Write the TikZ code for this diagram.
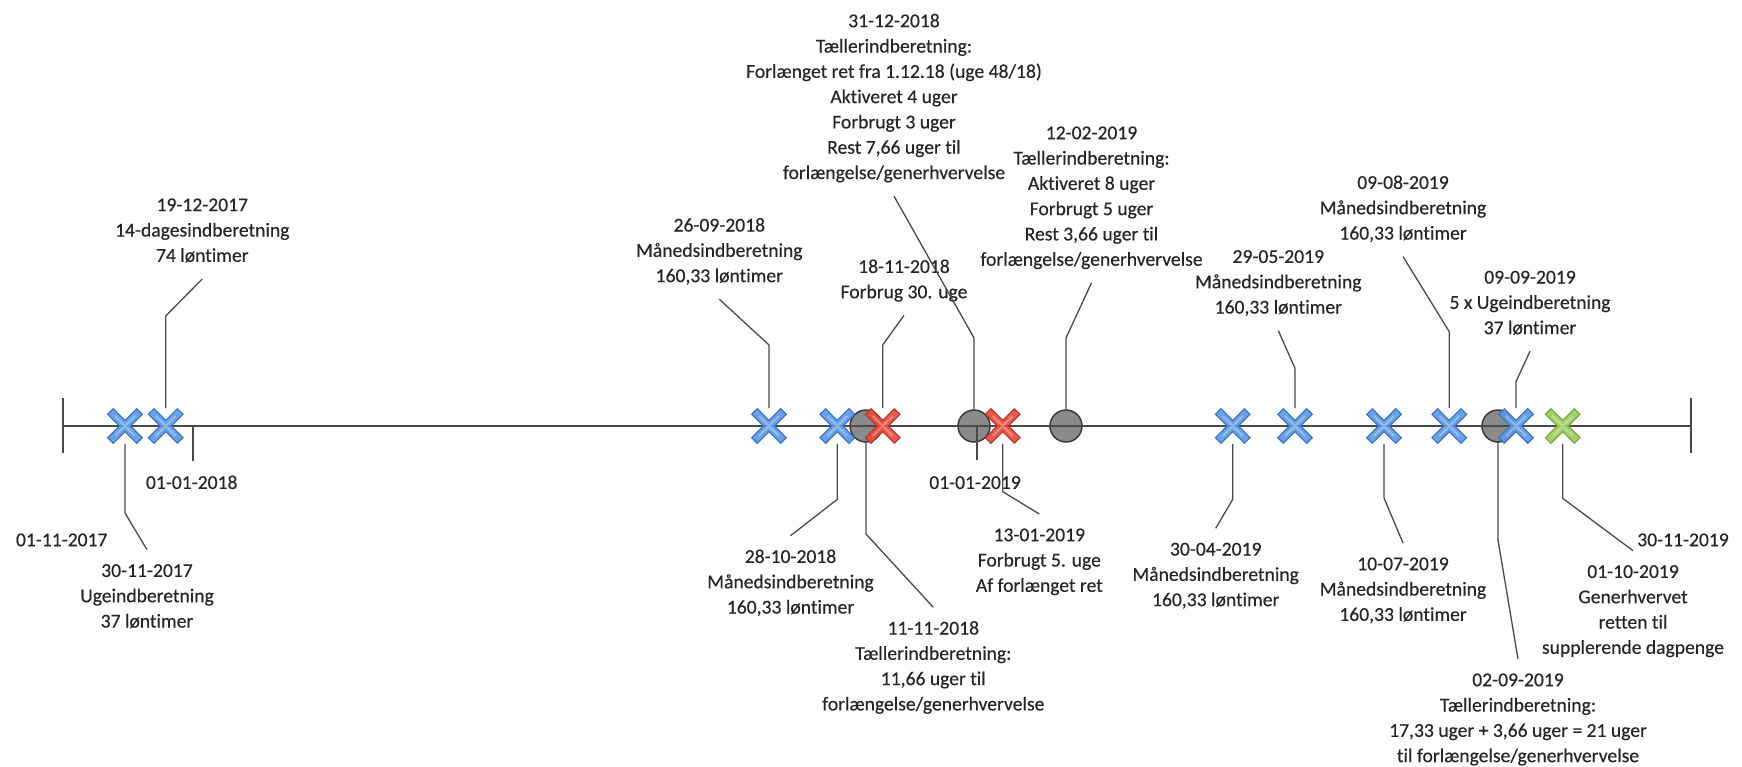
\documentclass[tikz,border=0pt]{standalone}
\usepackage{fontspec}
\setmainfont{Carlito}[Ligatures=NoCommon, FakeBold=0.35]
\definecolor{xbluef}{HTML}{5B9BE6}
\definecolor{xbluel}{HTML}{3A70C8}
\definecolor{xredf}{HTML}{E84A3C}
\definecolor{xredl}{HTML}{B8322A}
\definecolor{xgreenf}{HTML}{9DCC5C}
\definecolor{xgreenl}{HTML}{76A33E}
\definecolor{circf}{HTML}{8A8A8A}
\definecolor{circl}{HTML}{3C3C3C}
\definecolor{linec}{HTML}{4A4A4A}
\definecolor{txtc}{HTML}{262626}
\tikzset{
  lbl/.style={font=\fontsize{19.6}{25.3}\selectfont, align=center, text=txtc,
    inner xsep=0pt, inner ysep=9.5pt, outer sep=0pt, anchor=north},
  conn/.style={draw=linec, line width=1.3pt},
  axisline/.style={draw=linec, line width=1.4pt},
  mk/.style={shape=circle, minimum size=36pt, inner sep=0pt, outer sep=0pt},
  cmk/.style={shape=circle, minimum size=32pt, inner sep=0pt, outer sep=0pt,
    fill=circf, draw=circl, line width=1.5pt},
  pics/xmk/.style 2 args={code={
    \path[fill=#1, draw=#2, fill opacity=0.92, line width=1.1pt, rotate=45]
      (20.5,-4) -- (20.5,4) -- (4,4) -- (4,20.5) -- (-4,20.5) -- (-4,4)
      -- (-20.5,4) -- (-20.5,-4) -- (-4,-4) -- (-4,-20.5) -- (4,-20.5) -- (4,-4) -- cycle;
    \path[draw=white, draw opacity=0.3, line width=2pt, rotate=45]
      (-14,0) -- (14,0) (0,-14) -- (0,14);
  }}
}
\begin{document}
\begin{tikzpicture}[x=1pt,y=-1pt]
\useasboundingbox[fill=white] (0,0) rectangle (1742,766);

% marker nodes
\node[mk] (m1) at (125,426) {};
\node[mk] (m2) at (165.7,426) {};
\node[mk] (m3) at (769,426) {};
\node[mk] (m4) at (837.3,426) {};
\node[cmk] (m5) at (866,426) {};
\node[mk] (m6) at (882.7,426) {};
\node[cmk] (m7) at (974,426) {};
\node[mk] (m8) at (1002.7,426) {};
\node[cmk] (m9) at (1066,426) {};
\node[mk] (m10) at (1232.7,426) {};
\node[mk] (m11) at (1295,426) {};
\node[mk] (m12) at (1384,426) {};
\node[mk] (m13) at (1449.3,426) {};
\node[cmk] (m14) at (1498,426) {};
\node[mk] (m15) at (1516,426) {};
\node[mk] (m16) at (1562.7,426) {};

% axis and ticks
\coordinate (axL) at (63,426);
\coordinate (axR) at (1691,426);
\draw[axisline] (axL) -- (axR);
\coordinate (tLa) at (63,398); \coordinate (tLb) at (63,453);
\coordinate (tRa) at (1691,398); \coordinate (tRb) at (1691,453);
\coordinate (y18a) at (193,426); \coordinate (y18b) at (193,461);
\coordinate (y19a) at (977,426); \coordinate (y19b) at (977,460);
\draw[axisline] (tLa) -- (tLb);
\draw[axisline] (tRa) -- (tRb);
\draw[axisline] (y18a) -- (y18b);
\draw[axisline] (y19a) -- (y19b);

% X markers
\pic at (m1) {xmk={xbluef}{xbluel}};
\pic at (m2) {xmk={xbluef}{xbluel}};
\pic at (m3) {xmk={xbluef}{xbluel}};
\pic at (m4) {xmk={xbluef}{xbluel}};
\pic at (m6) {xmk={xredf}{xredl}};
\pic at (m8) {xmk={xredf}{xredl}};
\pic at (m10) {xmk={xbluef}{xbluel}};
\pic at (m11) {xmk={xbluef}{xbluel}};
\pic at (m12) {xmk={xbluef}{xbluel}};
\pic at (m13) {xmk={xbluef}{xbluel}};
\pic at (m15) {xmk={xbluef}{xbluel}};
\pic at (m16) {xmk={xgreenf}{xgreenl}};

% end and year labels
\node[lbl] (e1) at (61.7,519) {\strut 01-11-2017\strut};
\node[lbl] (e2) at (1683,519) {\strut 30-11-2019\strut};
\node[lbl] (y18) at (191.7,461.7) {\strut 01-01-2018\strut};
\node[lbl] (y19) at (975,461.7) {\strut 01-01-2019\strut};

% event labels
\node[lbl] (l1) at (147,549.7) {\strut 30-11-2017\\Ugeindberetning\\37 løntimer\strut};
\node[lbl] (l2) at (202.3,184) {\strut 19-12-2017\\14-dagesindberetning\\74 løntimer\strut};
\node[lbl] (l3) at (719.3,204.3) {\strut 26-09-2018\\Månedsindberetning\\160,33 løntimer\strut};
\node[lbl] (l4) at (790.5,535.7) {\strut 28-10-2018\\Månedsindberetning\\160,33 løntimer\strut};
\node[lbl] (l5) at (933.3,607.3) {\strut 11-11-2018\\Tællerindberetning:\\11,66 uger til\\forlængelse/generhvervelse\strut};
\node[lbl] (l6) at (904,245.7) {\strut 18-11-2018\\Forbrug 30. uge\strut};
\node[lbl] (l7) at (894,0) {\strut 31-12-2018\\Tællerindberetning:\\Forlænget ret fra 1.12.18 (uge 48/18)\\Aktiveret 4 uger\\Forbrugt 3 uger\\Rest 7,66 uger til\\forlængelse/generhvervelse\strut};
\node[lbl] (l8) at (1039.3,514) {\strut 13-01-2019\\Forbrugt 5. uge\\Af forlænget ret\strut};
\node[lbl] (l9) at (1091.5,112) {\strut 12-02-2019\\Tællerindberetning:\\Aktiveret 8 uger\\Forbrugt 5 uger\\Rest 3,66 uger til\\forlængelse/generhvervelse\strut};
\node[lbl] (l10) at (1215.7,528.3) {\strut 30-04-2019\\Månedsindberetning\\160,33 løntimer\strut};
\node[lbl] (l11) at (1278.3,235.7) {\strut 29-05-2019\\Månedsindberetning\\160,33 løntimer\strut};
\node[lbl] (l12) at (1403,543) {\strut 10-07-2019\\Månedsindberetning\\160,33 løntimer\strut};
\node[lbl] (l13) at (1403,161.7) {\strut 09-08-2019\\Månedsindberetning\\160,33 løntimer\strut};
\node[lbl] (l14) at (1518,659) {\strut 02-09-2019\\Tællerindberetning:\\17,33 uger + 3,66 uger = 21 uger\\til forlængelse/generhvervelse\strut};
\node[lbl] (l15) at (1530,256.3) {\strut 09-09-2019\\5 x Ugeindberetning\\37 løntimer\strut};
\node[lbl] (l16) at (1633,550.7) {\strut 01-10-2019\\Generhvervet\\retten til\\supplerende dagpenge\strut};

% bend points
\coordinate (b1) at (125,513);
\coordinate (b2) at (165.7,316);
\coordinate (b3) at (769,345);
\coordinate (b4) at (837.3,499.3);
\coordinate (b5) at (866,534);
\coordinate (b6) at (882.7,345);
\coordinate (b7) at (974,338);
\coordinate (b8) at (1002.7,491.7);
\coordinate (b9) at (1066,338);
\coordinate (b10) at (1232.7,499.3);
\coordinate (b11) at (1295,368.3);
\coordinate (b12) at (1384,498);
\coordinate (b13) at (1449.3,331.7);
\coordinate (b14) at (1498,540);
\coordinate (b15) at (1516,381.7);
\coordinate (b16) at (1562.7,498.3);

% connectors
\draw[conn] (m1.south) -- (b1) -- (l1.north);
\draw[conn] (m2.north) -- (b2) -- (l2.south);
\draw[conn] (m3.north) -- (b3) -- (l3.south);
\draw[conn] (m4.south) -- (b4) -- (l4.north);
\draw[conn] (m5.south) -- (b5) -- (l5.north);
\draw[conn] (m6.north) -- (b6) -- (l6.south);
\draw[conn] (m7.north) -- (b7) -- (l7.south);
\draw[conn] (m8.south) -- (b8) -- (l8.north);
\draw[conn] (m9.north) -- (b9) -- (l9.south);
\draw[conn] (m10.south) -- (b10) -- (l10.north);
\draw[conn] (m11.north) -- (b11) -- (l11.south);
\draw[conn] (m12.south) -- (b12) -- (l12.north);
\draw[conn] (m13.north) -- (b13) -- (l13.south);
\draw[conn] (m14.south) -- (b14) -- (l14.north);
\draw[conn] (m15.north) -- (b15) -- (l15.south);
\draw[conn] (m16.south) -- (b16) -- (l16.north);
\end{tikzpicture}
\end{document}
